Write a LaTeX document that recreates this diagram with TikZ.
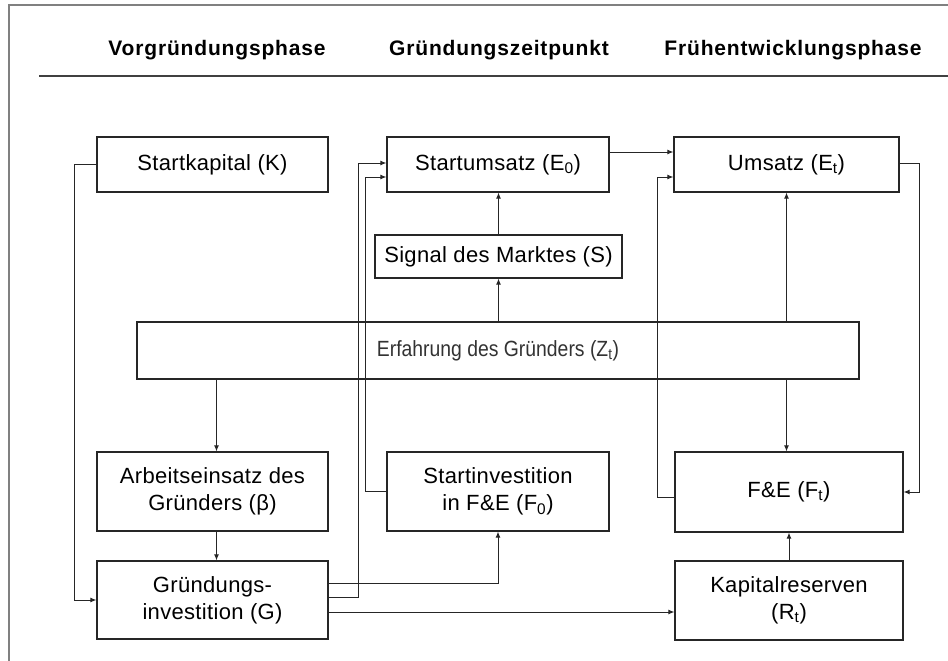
\documentclass[tikz,border=0pt]{standalone}
\usepackage{fontspec}
\setmainfont{Liberation Sans}
\newfontfamily\boxfont[LetterSpace=1.5]{Liberation Sans}
\newfontfamily\headfont[LetterSpace=4]{Liberation Sans}
\newfontfamily\zfont[FakeStretch=0.88]{Liberation Sans}
\usetikzlibrary{arrows.meta}
\newcommand{\sbx}[1]{\textsubscript{#1}}
\tikzset{
  box/.style={draw=black!85, line width=1.2pt, rectangle, inner sep=0pt,
    align=center, font=\boxfont\fontsize{22}{27}\selectfont},
  head/.style={anchor=base, inner sep=0pt, font=\headfont\bfseries\fontsize{21}{25}\selectfont},
  arr/.style={draw=black!85, line width=1pt, -{Latex[length=6pt,width=5pt]}},
  conn/.style={draw=black!85, line width=1pt}
}
\begin{document}
\begin{tikzpicture}[x=1pt,y=-1pt]
\useasboundingbox (0,0) rectangle (948,661);
\fill[white] (0,0) rectangle (948,661);
% frame
\draw[gray, line width=1.5pt] (9,661) -- (9,5) -- (948,5);
% header
\node[head] (h1) at (217,56) {Vorgründungsphase};
\node[head] (h2) at (499,56) {Gründungszeitpunkt};
\node[head] (h3) at (793,56) {Frühentwicklungsphase};
\coordinate (hl) at (39,76);
\coordinate (hr) at (948,76);
\draw[black!75, line width=1.5pt] (hl) -- (hr);
% boxes
\node[box, minimum width=231pt, minimum height=55pt] (K) at (212.5,164.5) {Startkapital (K)};
\node[box, minimum width=222pt, minimum height=55pt] (E0) at (498,164.5) {Startumsatz (E\sbx{0})};
\node[box, minimum width=225pt, minimum height=55pt] (Et) at (786.5,164.5) {Umsatz (E\sbx{t})};
\node[box, minimum width=247pt, minimum height=43pt] (S) at (498.5,256.5) {Signal des Marktes (S)};
\node[draw=black!85, line width=1.2pt, rectangle, minimum width=722pt, minimum height=57pt,
  font=\zfont\fontsize{22}{26}\selectfont, text=black!80] (Z) at (498,350.5) {Erfahrung des Gründers (Z\sbx{t})};
\node[box, minimum width=231pt, minimum height=79pt] (beta) at (212.5,491.5) {Arbeitseinsatz des\\Gründers (β)};
\node[box, minimum width=222pt, minimum height=79pt] (F0) at (498,491.5) {Startinvestition\\in F\&E (F\sbx{0})};
\node[box, minimum width=228pt, minimum height=80pt] (Ft) at (789,492) {F\&E (F\sbx{t})};
\node[box, minimum width=231pt, minimum height=78pt] (G) at (212.5,600) {Gründungs-\\investition (G)};
\node[box, minimum width=228pt, minimum height=79pt] (Rt) at (789,600.5) {Kapitalreserven\\(R\sbx{t})};
% connectors
\draw[arr] (K.west) -- ++(-22,0) |- (G.west);
\draw[arr] ([yshift=17pt]G.east) -| (F0.south);
\draw[arr] ([yshift=3pt]G.east) -- ++(30,0) |- ([yshift=1.5pt]E0.west);
\draw[arr] (F0.west) -- ++(-21,0) |- ([yshift=-12.5pt]E0.west);
\draw[arr] ([yshift=-12pt]G.east) -- ([yshift=-12pt]G.east -| Rt.west);
\draw[arr] ([yshift=12.5pt]E0.east) -- ([yshift=12.5pt]E0.east -| Et.west);
\draw[arr] (S.north) -- (S.north |- E0.south);
\draw[arr] (Z.north -| S.north) -- (S.south);
\draw[arr] (Z.north -| Et.south) -- (Et.south);
\draw[arr] ([xshift=4pt]Z.south -| beta.north) -- ([xshift=4pt]beta.north);
\draw[arr] ([xshift=4pt]beta.south) -- ([xshift=4pt]G.north);
\draw[arr] (Et.south |- Z.south) -- (Et.south |- Ft.north);
\draw[arr] (Rt.north) -- (Ft.south);
\draw[arr] ([yshift=1.5pt]Et.east) -- ++(20,0) |- (Ft.east);
\draw[arr] ([yshift=-5pt]Ft.west) -- ++(-17,0) |- ([yshift=-12.5pt]Et.west);
\end{tikzpicture}
\end{document}
